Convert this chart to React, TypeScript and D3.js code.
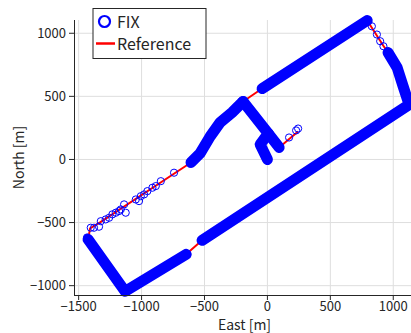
import React from "react";
import * as d3 from "d3";

const width = 411;
const height = 333;
const margin = { top: 20, right: 0, bottom: 38, left: 74 };

// axis ranges and ticks
const xDomain = [-1537, 1141];
const yDomain = [-1074, 1105];
const xTicks = [-1500, -1000, -500, 0, 500, 1000];
const yTicks = [-1000, -500, 0, 500, 1000];

// reference route [east, north] in metres
const refRoute: [number, number][] = [
  [0, 0], [-58, 119], [6, 206], [-193, 459], [-42, 562], [793, 1101],
  [920, 903], [959, 847], [1031, 728], [1079, 578], [1126, 435],
  [-519, -641], [-646, -752], [-1131, -1045], [-1425, -633], [-1409, -546],
  [-1330, -499], [-607, -24], [-535, 48], [-455, 182], [-376, 293],
  [-281, 372], [-193, 459], [6, 206], [93, 95], [244, 222],
];

// stretches where FIX epochs are so dense they form a solid band
const fixStub: [number, number][] = [[0, 0], [-58, 119], [6, 206], [-193, 459]];
const fixNorthEast: [number, number][] = [[-42, 562], [793, 1101]];
const fixEastSide: [number, number][] = [
  [959, 847], [1031, 728], [1079, 578], [1126, 435], [-519, -641],
];
const fixSouthWest: [number, number][] = [[-646, -752], [-1131, -1045], [-1425, -633]];
const fixWest: [number, number][] = [
  [-607, -24], [-535, 48], [-455, 182], [-376, 293], [-281, 372], [-193, 459],
];
const fixReturn: [number, number][] = [[6, 206], [93, 95]];
const fixTracks = [fixStub, fixNorthEast, fixEastSide, fixSouthWest, fixWest, fixReturn];

// isolated FIX epochs
const fixEast = [
  -1433, -1404, -1378, -1338, -1324, -1285, -1258, -1232, -1205, -1179, -1165,
  -1139, -1126, -1046, -1020, -1006, -980, -954, -914, -887, -847, -742,
  830, 870, 896, 922, 172, 228, 244,
];
const fixNorth = [
  -618, -541, -541, -533, -489, -475, -462, -435, -422, -409, -396,
  -356, -422, -317, -330, -291, -277, -251, -224, -211, -172, -105,
  1055, 990, 937, 897, 174, 230, 245,
];

const fontFamily = "'Noto Sans CJK JP', 'Noto Sans', sans-serif";
const axisColor = "#262626";

export default function App() {
  const x = d3.scaleLinear().domain(xDomain).range([margin.left, width - margin.right]);
  const y = d3.scaleLinear().domain(yDomain).range([height - margin.bottom, margin.top]);
  const line = d3.line<[number, number]>().x((d) => x(d[0])).y((d) => y(d[1]));

  const x0 = margin.left;
  const x1 = width - margin.right;
  const y0 = height - margin.bottom;
  const y1 = margin.top;

  return (
    <div style={{ position: "absolute", left: 0, top: 0 }}>
      <svg width={width} height={height} style={{ display: "block", background: "#fff" }}>
        {/* grid */}
        <g stroke="#dedede" strokeWidth={1}>
          {xTicks.map((t) => (
            <line key={"gx" + t} x1={x(t)} x2={x(t)} y1={y1} y2={y0} />
          ))}
          {yTicks.map((t) => (
            <line key={"gy" + t} x1={x0} x2={x1} y1={y(t)} y2={y(t)} />
          ))}
        </g>

        {/* reference */}
        <path d={line(refRoute) || ""} fill="none" stroke="#ff0000" strokeWidth={2} strokeLinejoin="round" />

        {/* FIX dense bands */}
        {fixTracks.map((t, i) => (
          <path
            key={"t" + i}
            d={line(t) || ""}
            fill="none"
            stroke="#0000ff"
            strokeWidth={11}
            strokeLinecap="round"
            strokeLinejoin="round"
          />
        ))}
        {/* FIX isolated markers */}
        {fixEast.map((e, i) => (
          <circle key={"c" + i} cx={x(e)} cy={y(fixNorth[i])} r={3.6} fill="none" stroke="#0000ff" strokeWidth={1} />
        ))}

        {/* axes */}
        <g stroke={axisColor} strokeWidth={1} fill="none">
          <line x1={x0} x2={x1} y1={y0 + 0.5} y2={y0 + 0.5} />
          <line x1={x0 + 0.5} x2={x0 + 0.5} y1={y1} y2={y0} />
          {xTicks.map((t) => (
            <line key={"tx" + t} x1={x(t)} x2={x(t)} y1={y0} y2={y0 + 5} />
          ))}
          {yTicks.map((t) => (
            <line key={"ty" + t} x1={x0 - 5} x2={x0} y1={y(t)} y2={y(t)} />
          ))}
        </g>
        <g fontFamily={fontFamily} fontSize={13} fill={axisColor}>
          {xTicks.map((t) => (
            <text key={"lx" + t} x={x(t)} y={y0 + 16} textAnchor="middle">
              {d3.format("")(t)}
            </text>
          ))}
          {yTicks.map((t) => (
            <text key={"ly" + t} x={x0 - 8} y={y(t) + 4.5} textAnchor="end">
              {d3.format("")(t)}
            </text>
          ))}
          <text x={(x0 + x1) / 2 + 2} y={330} textAnchor="middle" fontSize={14}>
            East [m]
          </text>
          <text
            transform={`translate(24, ${(y0 + y1) / 2}) rotate(-90)`}
            textAnchor="middle"
            fontSize={14}
          >
            North [m]
          </text>
        </g>

        {/* legend */}
        <g fontFamily={fontFamily} fontSize={16} fill={axisColor}>
          <rect x={93} y={8.5} width={113} height={50} fill="#fff" stroke={axisColor} strokeWidth={1} />
          <circle cx={104.5} cy={21.5} r={5.5} fill="none" stroke="#0000ff" strokeWidth={2.2} />
          <text x={117} y={27.5}>FIX</text>
          <line x1={96} x2={115} y1={43.5} y2={43.5} stroke="#ff0000" strokeWidth={2.5} />
          <text x={117} y={49.5}>Reference</text>
        </g>
      </svg>
    </div>
  );
}
